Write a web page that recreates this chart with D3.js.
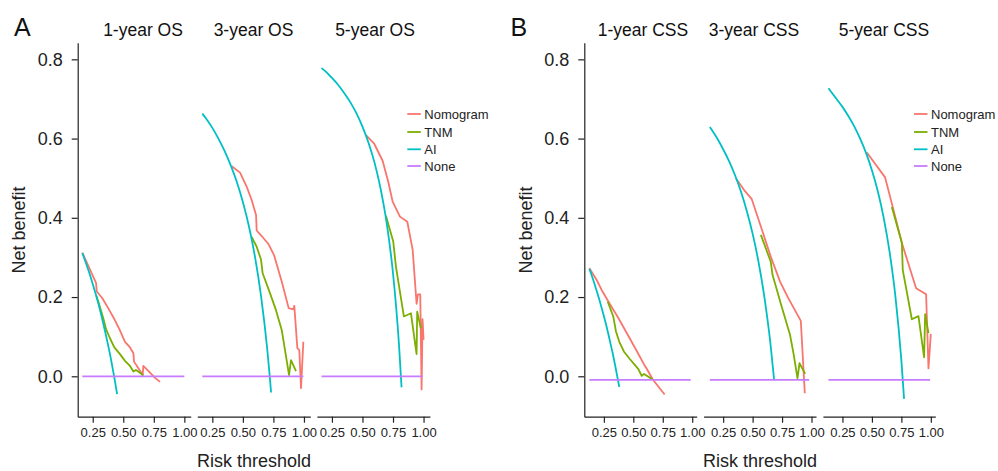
<!DOCTYPE html>
<html><head><meta charset="utf-8">
<script src="https://cdn.jsdelivr.net/npm/d3@7"></script>
<style>body{margin:0;background:#fff}text{font-family:"Liberation Sans",Arial,Helvetica,sans-serif}</style>
</head><body>
<svg id="c" width="998" height="471"></svg>
<script>
// ---------- data ----------
const seriesNames = ["Nomogram", "TNM", "AI", "None"];
const seriesColors = ["#F8766D", "#7CAE00", "#00BFC4", "#C77CFF"];
const yTicks = [0, 0.2, 0.4, 0.6, 0.8];
const xTicks = [0.25, 0.5, 0.75, 1.0];
const panelATitles = ["1-year OS", "3-year OS", "5-year OS"];
const panelBTitles = ["1-year CSS", "3-year CSS", "5-year CSS"];

// Panel A, 1-year OS
const a1Nomogram = [[.165,.312],[.277,.236],[.283,.214],[.329,.197],[.386,.167],[.424,.146],[.468,.119],[.514,.087],[.550,.075],[.583,.058],[.588,.037],[.624,.020],[.659,.003],[.664,.026],[.719,.009],[.760,-.004],[.801,-.014]];
const a1TNM = [[.280,.203],[.296,.188],[.337,.146],[.359,.119],[.391,.096],[.427,.073],[.473,.056],[.514,.039],[.555,.026],[.583,.012],[.604,.016],[.637,.009],[.664,.002]];
const a1AI = [[.165,.311],[.2,.281],[.225,.258],[.25,.233],[.275,.207],[.3,.179],[.325,.148],[.35,.115],[.375,.08],[.4,.042],[.425,0],[.45,-.045]];
const a1None = [[.165,0],[1.0,0]];
// Panel A, 3-year OS
const a2Nomogram = [[.409,.530],[.477,.514],[.531,.479],[.572,.445],[.608,.407],[.613,.368],[.654,.354],[.709,.334],[.755,.306],[.818,.239],[.875,.172],[.913,.169],[.921,.178],[.946,.071],[.962,.066],[.976,-.030],[.995,.087]];
const a2TNM = [[.572,.352],[.613,.327],[.649,.294],[.662,.260],[.722,.210],[.771,.167],[.818,.117],[.845,.066],[.878,.003],[.894,.041],[.935,.013]];
const a2AI = [[.168,.663],[.2,.650],[.25,.627],[.3,.600],[.35,.569],[.4,.533],[.45,.491],[.5,.440],[.55,.378],[.6,.300],[.65,.200],[.7,.067],[.72,0],[.731,-.041]];
const a2None = [[.168,0],[.995,0]];
// Panel A, 5-year OS
const a3Nomogram = [[.528,.609],[.596,.587],[.665,.544],[.711,.491],[.747,.441],[.807,.403],[.867,.390],[.911,.319],[.943,.183],[.954,.207],[.973,.207],[.984,-.033],[.992,.144],[1.0,.092]];
const a3TNM = [[.692,.405],[.752,.340],[.774,.277],[.839,.151],[.897,.159],[.943,.056],[.948,.163],[.978,.121]];
const a3AI = [[.165,.778],[.2,.769],[.25,.753],[.3,.736],[.35,.715],[.4,.692],[.45,.664],[.5,.630],[.55,.589],[.6,.538],[.65,.471],[.7,.383],[.75,.260],[.8,.075],[.82,-.028]];
const a3None = [[.165,0],[.992,0]];
// Panel B, 1-year CSS
const b1Nomogram = [[.127,.273],[.189,.243],[.231,.218],[.302,.182],[.373,.147],[.430,.117],[.514,.072],[.591,.030],[.614,.019],[.665,-.008],[.766,-.046]];
const b1TNM = [[.283,.188],[.330,.151],[.353,.113],[.381,.087],[.421,.062],[.472,.043],[.543,.018],[.571,.001],[.591,.006],[.665,-.008]];
const b1AI = [[.127,.271],[.15,.252],[.175,.229],[.2,.205],[.225,.179],[.25,.152],[.275,.123],[.3,.091],[.325,.058],[.35,.021],[.381,-.027]];
const b1None = [[.127,-.009],[.987,-.009]];
// Panel B, 3-year CSS
const b2Nomogram = [[.357,.500],[.428,.470],[.493,.447],[.570,.378],[.654,.302],[.733,.239],[.796,.201],[.909,.140],[.943,-.043]];
const b2TNM = [[.570,.357],[.654,.289],[.669,.256],[.739,.184],[.818,.104],[.847,.058],[.881,-.005],[.898,.033],[.946,.006]];
const b2AI = [[.137,.629],[.2,.600],[.25,.573],[.3,.543],[.35,.508],[.4,.467],[.45,.418],[.5,.360],[.55,.289],[.6,.200],[.65,.086],[.683,-.010]];
const b2None = [[.137,-.009],[.98,-.009]];
// Panel B, 5-year CSS
const b3Nomogram = [[.457,.565],[.612,.502],[.677,.427],[.754,.337],[.875,.222],[.960,.207],[.980,.020],[1.0,.107]];
const b3TNM = [[.669,.427],[.754,.337],[.762,.268],[.839,.144],[.895,.152],[.943,.048],[.952,.157],[.980,.109]];
const b3AI = [[.131,.727],[.2,.700],[.25,.680],[.3,.657],[.35,.631],[.4,.600],[.45,.564],[.5,.520],[.55,.467],[.6,.400],[.65,.314],[.7,.200],[.75,.040],[.773,-.057]];
const b3None = [[.131,-.009],[.994,-.009]];

// ---------- layout ----------
const svg = d3.select("#c");
const yTop = 42.7, yBottom = 416.7;
const y = d3.scaleLinear().domain([-0.102, 0.842]).range([yBottom, yTop]);

const panels = [
  { letter: "A", letterX: 14, left: 77.7, step: 119.6, width: 113, xDomain: [0.127, 1.052],
    titles: panelATitles, titleCenters: [143, 253.5, 375], legendX: 407.3, yLabelX: 25, xTitleX: 254,
    facets: [[a1Nomogram, a1TNM, a1AI, a1None], [a2Nomogram, a2TNM, a2AI, a2None], [a3Nomogram, a3TNM, a3AI, a3None]] },
  { letter: "B", letterX: 510.5, left: 584.3, step: 119.3, width: 112.4, xDomain: [0.084, 1.038],
    titles: panelBTitles, titleCenters: [643, 754, 884], legendX: 914, yLabelX: 531.5, xTitleX: 760,
    facets: [[b1Nomogram, b1TNM, b1AI, b1None], [b2Nomogram, b2TNM, b2AI, b2None], [b3Nomogram, b3TNM, b3AI, b3None]] }
];

panels.forEach(p => {
  // panel letter
  svg.append("text").attr("x", p.letterX).attr("y", 36).attr("font-size", 25)
    .attr("fill", "#111").text(p.letter);
  // y label
  svg.append("text").attr("transform", `translate(${p.yLabelX},230) rotate(-90)`)
    .attr("text-anchor", "middle").attr("font-size", 18).attr("fill", "#222").text("Net benefit");
  // x title
  svg.append("text").attr("x", p.xTitleX).attr("y", 467).attr("text-anchor", "middle")
    .attr("font-size", 18).attr("fill", "#222").text("Risk threshold");

  p.facets.forEach((series, i) => {
    const x0 = p.left + i * p.step;
    const x = d3.scaleLinear().domain(p.xDomain).range([x0, x0 + p.width]);
    // facet title
    svg.append("text").attr("x", p.titleCenters[i]).attr("y", 36).attr("text-anchor", "middle")
      .attr("font-size", 17.5).attr("fill", "#111").text(p.titles[i]);
    // bottom axis
    const gx = svg.append("g").attr("transform", `translate(0,${yBottom})`)
      .call(d3.axisBottom(x).tickValues(xTicks).tickFormat(d3.format(".2f")).tickSize(6).tickSizeOuter(0).tickPadding(5));
    gx.select(".domain").attr("stroke", "#222").attr("stroke-width", 1.2);
    gx.selectAll(".tick line").attr("stroke", "#222").attr("stroke-width", 1.2);
    gx.selectAll(".tick text").attr("font-size", 13).attr("fill", "#222")
      .style("font-family", '"Liberation Sans",Arial,sans-serif');
    // left axis on first facet only
    if (i === 0) {
      const gy = svg.append("g").attr("transform", `translate(${x0},0)`)
        .call(d3.axisLeft(y).tickValues(yTicks).tickFormat(d3.format(".1f")).tickSize(6).tickSizeOuter(0).tickPadding(9));
      gy.select(".domain").attr("stroke", "#222").attr("stroke-width", 1.2);
      gy.selectAll(".tick line").attr("stroke", "#222").attr("stroke-width", 1.2);
      gy.selectAll(".tick text").attr("font-size", 18).attr("fill", "#222")
        .style("font-family", '"Liberation Sans",Arial,sans-serif');
    }
    // lines
    series.forEach((pts, k) => {
      const line = d3.line().x(d => x(d[0])).y(d => y(d[1]))
        .curve(k === 2 ? d3.curveMonotoneX : d3.curveLinear);
      svg.append("path").datum(pts).attr("d", line).attr("fill", "none")
        .attr("stroke", seriesColors[k]).attr("stroke-width", 1.8)
        .attr("stroke-linejoin", "round");
    });
  });

  // legend
  const lg = svg.append("g");
  const rows = [114, 132, 149.3, 166];
  seriesNames.forEach((name, k) => {
    lg.append("line").attr("x1", p.legendX).attr("x2", p.legendX + 13.5)
      .attr("y1", rows[k]).attr("y2", rows[k]).attr("stroke", seriesColors[k]).attr("stroke-width", 1.8);
    lg.append("text").attr("x", p.legendX + 17).attr("y", rows[k] + 4.5)
      .attr("font-size", 13).attr("fill", "#222").text(name);
  });
});
</script>
</body></html>
